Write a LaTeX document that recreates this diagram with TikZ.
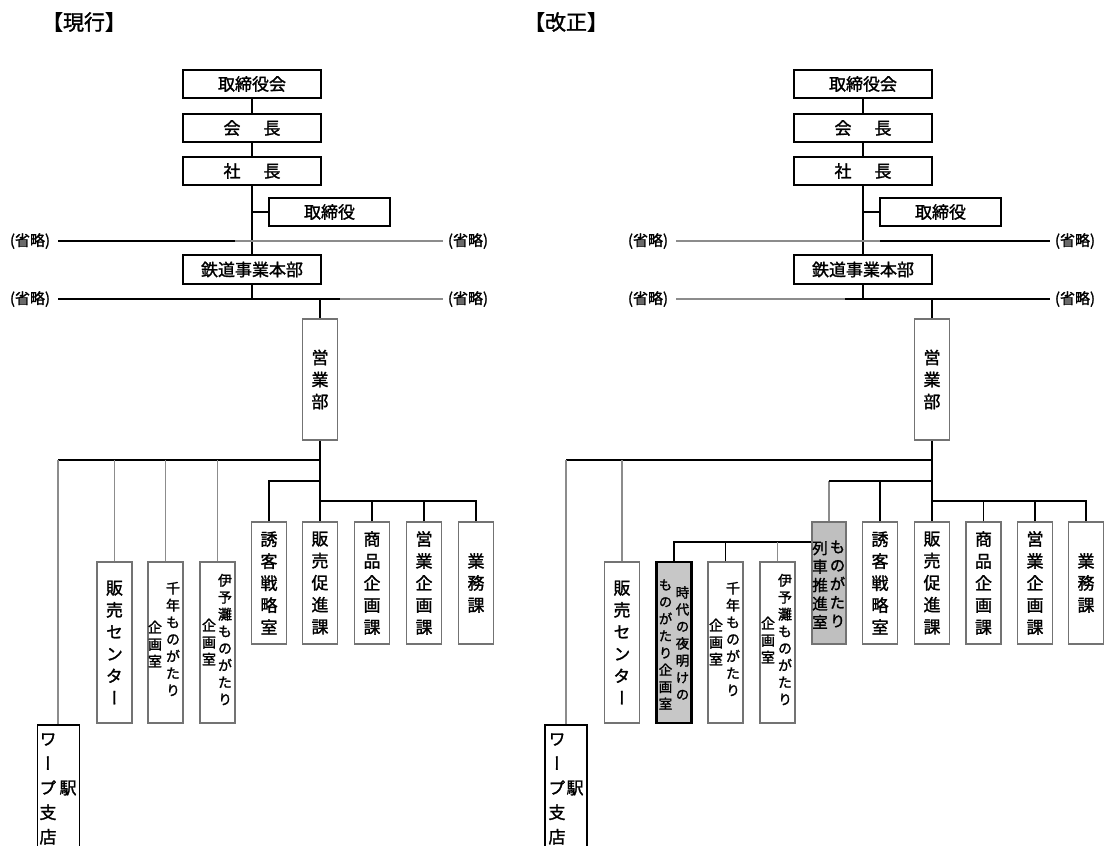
\documentclass[tikz,border=0pt]{standalone}
\usepackage{fontspec}
\newfontfamily\jp[FakeBold=1.5]{Noto Sans CJK JP}
\newfontfamily\jpv[RawFeature=+vert,FakeBold=1.5]{Noto Sans CJK JP}
\begin{document}
\begin{tikzpicture}[x=1pt,y=-1pt,
  ln/.style={line width=1.3pt, draw=black},
  gln/.style={line width=1.3pt, draw=black!45},
  hb/.style={draw=black, line width=1.3pt, inner sep=0pt, minimum height=28pt, font=\jp\fontsize{17}{17}\selectfont},
  vb/.style={draw=black!55, line width=1.3pt, inner sep=0pt, minimum width=35pt, align=center, font=\jpv\fontsize{17}{22}\selectfont},
  toprow/.style={vb, minimum height=122pt},
  lowrow/.style={vb, minimum height=161pt},
  vt/.style={inner sep=0pt, align=center, font=\jpv\fontsize{14}{17}\selectfont},
  wbox/.style={draw=black, line width=1.3pt, inner sep=0pt, minimum width=42pt, minimum height=122pt},
  wt/.style={inner sep=0pt, align=center, font=\jpv\fontsize{17}{24.5}\selectfont},
  omit/.style={inner sep=0pt, font=\jp\fontsize{15}{15}\selectfont},
  ttl/.style={inner sep=0pt, font=\jp\fontsize{21}{21}\selectfont}]
\useasboundingbox (0,0) rectangle (1107,845);
\fill[white] (0,0) rectangle (1107,845);

% ================= LEFT (現行) =================
\node[ttl] (t1) at (84,22) {【現行】};
\node[hb, minimum width=138pt] (a1) at (252,84) {取締役会};
\node[hb, minimum width=138pt] (a2) at (252,128) {会\hspace{23pt}長};
\node[hb, minimum width=138pt] (a3) at (252,171) {社\hspace{23pt}長};
\node[hb, minimum width=121pt] (a4) at (329.5,212) {取締役};
\node[hb, minimum width=138pt, minimum height=29pt] (a5) at (252,269.5) {鉄道事業本部};
\node[omit] (o1) at (30,241) {(省略)};
\node[omit] (o2) at (468,241) {(省略)};
\node[omit] (o3) at (30,299) {(省略)};
\node[omit] (o4) at (468,299) {(省略)};
\node[vb, minimum height=121pt] (a6) at (320,379.5) {営\\業\\部};

\coordinate (m1) at (235,241);
\coordinate (m2) at (340,299);
\coordinate (j1) at (252,299);
\coordinate (j2) at (320,299);
\draw[ln] (a1) -- (a2);
\draw[ln] (a2) -- (a3);
\draw[ln] (a3) -- (a5);
\draw[ln] (a4.west) -- (a4.west -| a3.south);
\draw[ln] ([xshift=8pt]o1.east) -- (m1);
\draw[gln] (m1) -- ([xshift=-5pt]o2.west);
\draw[ln] ([xshift=8pt]o3.east) -- (m2);
\draw[gln] (m2) -- ([xshift=-5pt]o4.west);
\draw[ln] (a5.south) -- (j1);
\draw[ln] (j2) -- (a6.north);

% top row
\node[toprow] (b1) at (269,583) {誘\\客\\戦\\略\\室};
\node[toprow] (b2) at (320,583) {販\\売\\促\\進\\課};
\node[toprow] (b3) at (372,583) {商\\品\\企\\画\\課};
\node[toprow] (b4) at (424,583) {営\\業\\企\\画\\課};
\node[toprow] (b5) at (476,583) {業\\務\\課};
% lower row
\node[lowrow] (c1) at (114.5,642.5) {販\\売\\セ\\ン\\タ\\ー};
\node[lowrow] (c2) at (165.5,642.5) {};
\node[vt] (c2r) at (173,639) {千\\年\\も\\の\\が\\た\\り};
\node[vt] (c2l) at (155,644) {企\\画\\室};
\node[lowrow] (c3) at (217.5,642.5) {};
\node[vt] (c3r) at (225,639.5) {伊\\予\\灘\\も\\の\\が\\た\\り};
\node[vt] (c3l) at (209,642) {企\\画\\室};
\node[wbox] (w1) at (58.5,786) {};
\node[wt] (w1t) at (48,789) {ワ\\ー\\プ\\支\\店};
\node[wt] (w1e) at (68,788) {駅};

\coordinate (h1a) at (58,460);
\coordinate (h1b) at (320,460);
\coordinate (h2b) at (320,481);
\coordinate (h3a) at (320,501);
\draw[ln] (a6.south) -- (b2.north);
\draw[ln] (h1a) -- (h1b);
\draw[gln] (h1a) -- (h1a |- w1.north);
\draw[gln] (c1.north) -- (c1.north |- h1a);
\draw[gln] (c2.north) -- (c2.north |- h1a);
\draw[gln] (c3.north) -- (c3.north |- h1a);
\draw[ln] (b1.north) |- (h2b);
\draw[ln] (h3a) -| (b5.north);
\draw[ln] (b3.north) -- (b3.north |- h3a);
\draw[ln] (b4.north) -- (b4.north |- h3a);

% ================= RIGHT (改正) =================
\node[ttl] (t2) at (566,22) {【改正】};
\node[hb, minimum width=138pt] (r1) at (863,84) {取締役会};
\node[hb, minimum width=138pt] (r2) at (863,128) {会\hspace{23pt}長};
\node[hb, minimum width=138pt] (r3) at (863,171) {社\hspace{23pt}長};
\node[hb, minimum width=121pt] (r4) at (940.5,212) {取締役};
\node[hb, minimum width=138pt, minimum height=29pt] (r5) at (863,269.5) {鉄道事業本部};
\node[omit] (ro1) at (648,241) {(省略)};
\node[omit] (ro2) at (1075,241) {(省略)};
\node[omit] (ro3) at (648,299) {(省略)};
\node[omit] (ro4) at (1075,299) {(省略)};
\node[vb, minimum height=121pt] (r6) at (932,379.5) {営\\業\\部};

\coordinate (rm1) at (880,241);
\coordinate (rm2) at (845,299);
\coordinate (rj1) at (863,299);
\coordinate (rj2) at (932,299);
\draw[ln] (r1) -- (r2);
\draw[ln] (r2) -- (r3);
\draw[ln] (r3) -- (r5);
\draw[ln] (r4.west) -- (r4.west -| r3.south);
\draw[gln] ([xshift=8pt]ro1.east) -- (rm1);
\draw[ln] (rm1) -- ([xshift=-5pt]ro2.west);
\draw[gln] ([xshift=8pt]ro3.east) -- (rm2);
\draw[ln] (rm2) -- ([xshift=-5pt]ro4.west);
\draw[ln] (r5.south) -- (rj1);
\draw[ln] (rj2) -- (r6.north);

% top row
\node[toprow, fill=black!25, minimum width=34pt] (s0) at (829,583) {};
\node[vt, font=\jpv\fontsize{15.5}{18.5}\selectfont] (s0r) at (837.5,584) {も\\の\\が\\た\\り};
\node[vt, font=\jpv\fontsize{15.5}{18.5}\selectfont] (s0l) at (820,585) {列\\車\\推\\進\\室};
\node[toprow] (s1) at (880,583) {誘\\客\\戦\\略\\室};
\node[toprow] (s2) at (932,583) {販\\売\\促\\進\\課};
\node[toprow] (s3) at (983.5,583) {商\\品\\企\\画\\課};
\node[toprow] (s4) at (1035,583) {営\\業\\企\\画\\課};
\node[toprow] (s5) at (1086,583) {業\\務\\課};
% lower row
\node[lowrow] (u1) at (622,642.5) {販\\売\\セ\\ン\\タ\\ー};
\node[lowrow, draw=black, line width=2.6pt, fill=black!22, minimum width=35pt] (u2) at (674,642.5) {};
\node[vt, font=\jpv\fontsize{13.5}{17}\selectfont] (u2r) at (682.5,643) {時\\代\\の\\夜\\明\\け\\の};
\node[vt, font=\jpv\fontsize{13.5}{17}\selectfont] (u2l) at (665.5,644.5) {も\\の\\が\\た\\り\\企\\画\\室};
\node[lowrow] (u3) at (725.5,642.5) {};
\node[vt] (u3r) at (733,639) {千\\年\\も\\の\\が\\た\\り};
\node[vt] (u3l) at (716,642) {企\\画\\室};
\node[lowrow] (u4) at (777.5,642.5) {};
\node[vt] (u4r) at (785,639.5) {伊\\予\\灘\\も\\の\\が\\た\\り};
\node[vt] (u4l) at (768,640) {企\\画\\室};
\node[wbox] (w2) at (566,786) {};
\node[wt] (w2t) at (557,789) {ワ\\ー\\プ\\支\\店};
\node[wt] (w2e) at (575,788) {駅};

\coordinate (g1a) at (566,460);
\coordinate (g1b) at (932,460);
\coordinate (g2b) at (932,481);
\coordinate (g3a) at (932,501);
\coordinate (g4a) at (674,542);
\draw[ln] (r6.south) -- (s2.north);
\draw[ln] (g1a) -- (g1b);
\draw[gln] (g1a) -- (g1a |- w2.north);
\draw[gln] (u1.north) -- (u1.north |- g1a);
\draw[gln] (s0.north) -- (s0.north |- g2b);
\draw[ln] (s0.north |- g2b) -- (g2b);
\draw[ln] (s1.north) -- (s1.north |- g2b);
\draw[ln] (g3a) -| (s5.north);
\draw[ln] (s3.north) -- (s3.north |- g3a);
\draw[ln] (s4.north) -- (s4.north |- g3a);
\draw[ln] (s0.west |- g4a) -- (g4a) -- (u2.north);
\draw[ln] (u3.north) -- (u3.north |- g4a);
\draw[gln] (u4.north) -- (u4.north |- g4a);
\end{tikzpicture}
\end{document}
